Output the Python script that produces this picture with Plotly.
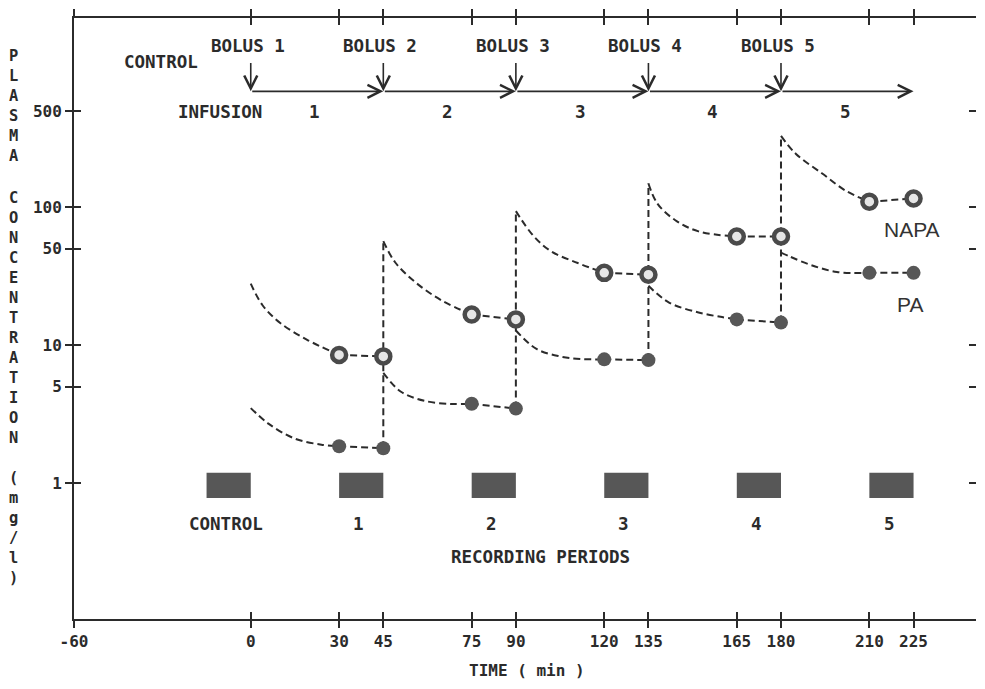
import math
import plotly.graph_objects as go

# ---------------- data ----------------
X_TICKS = [-60, 0, 30, 45, 75, 90, 120, 135, 165, 180, 210, 225]
Y_TICKS = [1, 5, 10, 50, 100, 500]
Y_TICK_TEXT = ["1", "5", "10", "50", "100", "500"]

SAMPLE_T = [30, 45, 75, 90, 120, 135, 165, 180, 210, 225]
NAPA = [8.5, 8.3, 16.7, 15.4, 33.5, 32.5, 61.5, 61.5, 110, 116]
PA = [1.85, 1.79, 3.76, 3.47, 7.9, 7.8, 15.4, 14.6, 33.5, 33.5]

BOLUS_T = [0, 45, 90, 135, 180]
BOLUS_LABELS = ["BOLUS 1", "BOLUS 2", "BOLUS 3", "BOLUS 4", "BOLUS 5"]
INFUSION_LABELS = ["1", "2", "3", "4", "5"]
INFUSION_LEN = 45

# decay curves (one list per bolus)
NAPA_CURVE_T = [[0, 4, 10, 19, 30], [45, 49, 56, 65, 75], [90, 96, 102, 111, 120],
                [135, 138, 144, 152, 165], [180, 185, 194, 202, 210]]
NAPA_CURVE_C = [[28, 19.5, 14.5, 11, 8.5], [57, 40, 28.5, 21, 16.7], [94, 62, 48, 39.5, 33.5],
                [149, 107, 81, 67, 61.5], [330, 245, 176, 132, 110]]
PA_CURVE_T = [[0, 6, 15, 24, 30], [45, 51, 59, 68, 75], [90, 97, 105, 112, 120],
              [135, 142, 152, 160, 165], [180, 183, 190, 199, 210]]
PA_CURVE_C = [[3.5, 2.7, 2.1, 1.9, 1.85], [6.3, 4.6, 3.95, 3.75, 3.76], [12.8, 9.4, 8.3, 7.95, 7.9],
              [27, 20.4, 17.3, 16, 15.4], [47, 44, 38.3, 34, 33.5]]

RECORD_START = [-15, 30, 75, 120, 165, 210]
RECORD_LEN = 15
RECORD_LABELS = ["CONTROL", "1", "2", "3", "4", "5"]
BAR_LOW, BAR_HIGH = 0.78, 1.19

# ---------------- style ----------------
INK = "#2b2b2b"
GREY = "#575757"
MONO = "DejaVu Sans Mono"
X_RANGE = [-60, 246.2]
Y_RANGE = [-0.986, 3.374]
DASH = "7px,4px"
L = math.log10


def mono(size=17.5):
    return dict(family=MONO, size=size, color=INK, weight="bold")


fig = go.Figure()

# recording period bars
bx, by = [], []
for s in RECORD_START:
    bx += [s, s + RECORD_LEN, s + RECORD_LEN, s, s, None]
    by += [BAR_LOW, BAR_LOW, BAR_HIGH, BAR_HIGH, BAR_LOW, None]
fig.add_trace(go.Scatter(x=bx, y=by, mode="lines", fill="toself", fillcolor=GREY,
                         line=dict(width=0, color=GREY), hoverinfo="skip", showlegend=False))


def curves(ts_list, cs_list):
    xs, ys = [], []
    for ts, cs in zip(ts_list, cs_list):
        xs += ts + [None]
        ys += cs + [None]
    return xs, ys


for ts, cs in ((NAPA_CURVE_T, NAPA_CURVE_C), (PA_CURVE_T, PA_CURVE_C)):
    cx, cy = curves(ts, cs)
    fig.add_trace(go.Scatter(x=cx, y=cy, mode="lines",
                             line=dict(color=INK, width=2, dash=DASH, shape="spline", smoothing=1.0),
                             hoverinfo="skip", showlegend=False))

# vertical dashed lines at each new bolus
vx, vy = [], []
for k, t in enumerate(BOLUS_T[1:], start=1):
    i = SAMPLE_T.index(t)
    vx += [t, t, None]
    vy += [PA[i], NAPA_CURVE_C[k][0], None]
fig.add_trace(go.Scatter(x=vx, y=vy, mode="lines", line=dict(color=INK, width=2, dash=DASH),
                         hoverinfo="skip", showlegend=False))


def pairs(ts, vs):
    xs, ys = [], []
    for j in range(0, len(ts), 2):
        xs += [ts[j], ts[j + 1], None]
        ys += [vs[j], vs[j + 1], None]
    return xs, ys


nx, ny = pairs(SAMPLE_T, NAPA)
fig.add_trace(go.Scatter(x=nx, y=ny, mode="lines+markers", name="NAPA",
                         line=dict(color=INK, width=2, dash=DASH),
                         marker=dict(symbol="circle", size=14, color="#e6e6e6",
                                     line=dict(color="#4a4a4a", width=4.5)),
                         showlegend=False))
px_, py_ = pairs(SAMPLE_T, PA)
fig.add_trace(go.Scatter(x=px_, y=py_, mode="lines+markers", name="PA",
                         line=dict(color=INK, width=2, dash=DASH),
                         marker=dict(symbol="circle", size=14, color=GREY, line=dict(width=0)),
                         showlegend=False))

# dummy traces to activate overlay axes (cross ticks)
fig.add_trace(go.Scatter(x=[None], y=[None], xaxis="x2", yaxis="y", showlegend=False, hoverinfo="skip"))
fig.add_trace(go.Scatter(x=[None], y=[None], xaxis="x", yaxis="y2", showlegend=False, hoverinfo="skip"))
fig.add_trace(go.Scatter(x=[None], y=[None], xaxis="x", yaxis="y3", showlegend=False, hoverinfo="skip"))

ann = []
# top: bolus arrows, infusion arrows and labels
Y_BOLUS_TXT = 3.172
Y_ARROW_TOP = 3.058
Y_INF = 2.842
Y_INF_TXT = 2.69
for t, lab, inf in zip(BOLUS_T, BOLUS_LABELS, INFUSION_LABELS):
    ann.append(dict(x=t - 1, y=Y_BOLUS_TXT, xref="x", yref="y", text=lab, showarrow=False,
                    font=mono(), xanchor="center", yanchor="middle"))
    ann.append(dict(x=t, y=Y_INF, ax=t, ay=Y_ARROW_TOP, xref="x", yref="y", axref="x", ayref="y",
                    text="", showarrow=True, arrowhead=5, arrowsize=1.6, arrowwidth=1.6,
                    arrowcolor=INK, standoff=0))
    ann.append(dict(x=t + INFUSION_LEN, y=Y_INF, ax=t, ay=Y_INF, xref="x", yref="y", axref="x",
                    ayref="y", text="", showarrow=True, arrowhead=5, arrowsize=1.6,
                    arrowwidth=1.6, arrowcolor=INK, standoff=0))
    ann.append(dict(x=t + 21.8, y=Y_INF_TXT, xref="x", yref="y", text=inf, showarrow=False,
                    font=mono()))
ann.append(dict(x=-30.4, y=3.055, xref="x", yref="y", text="CONTROL", showarrow=False, font=mono()))
ann.append(dict(x=-10.4, y=Y_INF_TXT, xref="x", yref="y", text="INFUSION", showarrow=False,
                font=mono()))

# recording period labels
for s, lab in zip(RECORD_START, RECORD_LABELS):
    ann.append(dict(x=s + RECORD_LEN / 2 - 0.8, y=-0.3, xref="x", yref="y", text=lab,
                    showarrow=False, font=mono()))
ann.append(dict(x=98.5, y=-0.535, xref="x", yref="y", text="RECORDING PERIODS", showarrow=False,
                font=mono()))

# series labels
ann.append(dict(x=224.5, y=L(69.5), xref="x", yref="y", text="NAPA", showarrow=False,
                font=dict(family="Liberation Sans", size=21, color="#333")))
ann.append(dict(x=223.8, y=L(19.8), xref="x", yref="y", text="PA", showarrow=False,
                font=dict(family="Liberation Sans", size=21, color="#333")))

# axis titles
ann.append(dict(x=0.502, y=-0.086, xref="paper", yref="paper", text="TIME ( min )",
                showarrow=False, font=mono(16), yanchor="middle"))
for word, yc in (("PLASMA", 0.853), ("CONCENTRATION", 0.501), ("(mg/l)", 0.152)):
    ann.append(dict(x=-0.067, y=yc, xref="paper", yref="paper", text="<br>".join(word),
                    showarrow=False, font=mono(15.4), xanchor="center", yanchor="middle"))

common = dict(showgrid=False, zeroline=False, linecolor=INK, linewidth=2, tickcolor=INK,
              tickwidth=2, ticklen=7)

fig.update_layout(
    width=969, height=673,
    margin=dict(l=66, r=1, t=5, b=62),
    paper_bgcolor="white", plot_bgcolor="white",
    showlegend=False,
    annotations=ann,
    xaxis=dict(range=X_RANGE, tickvals=X_TICKS, ticktext=[str(v) for v in X_TICKS],
               ticks="outside", showline=True, mirror="ticks", tickfont=mono(16), **common),
    xaxis2=dict(range=X_RANGE, tickvals=X_TICKS, overlaying="x", ticks="inside",
                showline=True, mirror="ticks", showticklabels=False, **common),
    yaxis=dict(type="log", range=Y_RANGE, tickvals=Y_TICKS, ticktext=Y_TICK_TEXT,
               ticks="outside", showline=True, mirror=False, tickfont=mono(16), **common),
    yaxis2=dict(type="log", range=Y_RANGE, tickvals=Y_TICKS, overlaying="y", ticks="inside",
                showline=False, showticklabels=False, **common),
    yaxis3=dict(type="log", range=Y_RANGE, tickvals=Y_TICKS, overlaying="y", side="right",
                anchor="x", ticks="inside", showline=False, showticklabels=False, **common),
)

fig.write_html("out.html")
